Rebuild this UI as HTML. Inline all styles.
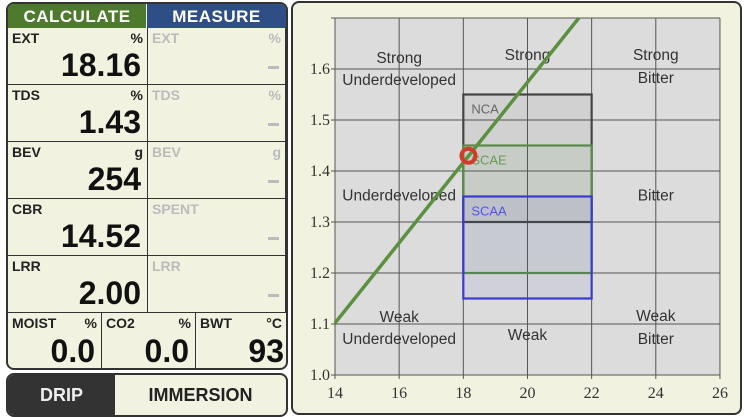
<!DOCTYPE html>
<html><head><meta charset="utf-8"><style>
body{margin:0;width:748px;height:406px;background:#fff;position:relative;overflow:hidden;font-family:"Liberation Sans",sans-serif}
.card{position:absolute;left:6px;top:2px;width:278px;height:364px;border:2px solid #333;border-radius:8px;background:#f2f2e1;overflow:hidden}
.hd{position:absolute;top:0;height:24px;color:#fff;font-weight:bold;font-size:17px;text-align:center;line-height:26px;letter-spacing:0.5px}
.cell{position:absolute;border-right:1.5px solid #333;border-bottom:1.5px solid #333;box-sizing:border-box}
.lb{position:absolute;left:4px;top:2px;font-weight:bold;font-size:14px;color:#222}
.un{position:absolute;right:4px;top:2px;font-weight:bold;font-size:14px;color:#222}
.vl{position:absolute;right:6px;bottom:0px;font-size:32px;font-weight:bold;color:#111}
.g .lb,.g .un{color:#bbb}
.dash{position:absolute;right:6px;bottom:15px;width:11px;height:3px;background:#bbb}
</style></head><body>
<div class="card">
 <div class="hd" style="left:0;width:138px;background:#4e7a2e">CALCULATE</div>
 <div class="hd" style="left:139px;width:139px;background:#2d4f85">MEASURE</div>
 <div class="cell" style="left:0;top:24px;width:140px;height:57px"><span class="lb">EXT</span><span class="un">%</span><span class="vl">18.16</span></div>
 <div class="cell g" style="left:140px;top:24px;width:138px;height:57px"><span class="lb">EXT</span><span class="un">%</span><span class="dash"></span></div>
 <div class="cell" style="left:0;top:81px;width:140px;height:57px"><span class="lb">TDS</span><span class="un">%</span><span class="vl">1.43</span></div>
 <div class="cell g" style="left:140px;top:81px;width:138px;height:57px"><span class="lb">TDS</span><span class="un">%</span><span class="dash"></span></div>
 <div class="cell" style="left:0;top:138px;width:140px;height:57px"><span class="lb">BEV</span><span class="un">g</span><span class="vl">254</span></div>
 <div class="cell g" style="left:140px;top:138px;width:138px;height:57px"><span class="lb">BEV</span><span class="un">g</span><span class="dash"></span></div>
 <div class="cell" style="left:0;top:195px;width:140px;height:57px"><span class="lb">CBR</span><span class="vl">14.52</span></div>
 <div class="cell g" style="left:140px;top:195px;width:138px;height:57px"><span class="lb">SPENT</span><span class="dash"></span></div>
 <div class="cell" style="left:0;top:252px;width:140px;height:57px"><span class="lb">LRR</span><span class="vl">2.00</span></div>
 <div class="cell g" style="left:140px;top:252px;width:138px;height:57px"><span class="lb">LRR</span><span class="dash"></span></div>
 <div class="cell" style="left:0;top:309px;width:94px;height:57px;border-bottom:none"><span class="lb">MOIST</span><span class="un">%</span><span class="vl">0.0</span></div>
 <div class="cell" style="left:94px;top:309px;width:94px;height:57px;border-bottom:none"><span class="lb">CO2</span><span class="un">%</span><span class="vl">0.0</span></div>
 <div class="cell" style="left:188px;top:309px;width:90px;height:57px;border:none"><span class="lb">BWT</span><span class="un">°C</span><span class="vl" style="right:2px">93</span></div>
</div>
<div style="position:absolute;left:6px;top:373px;width:278px;height:40px;border:2px solid #333;border-radius:8px;background:#f2f2e1;overflow:hidden">
 <div style="position:absolute;left:0;top:0;width:107px;height:40px;background:#333;color:#eee;font-weight:bold;font-size:18px;text-align:center;line-height:40px">DRIP</div>
 <div style="position:absolute;left:107px;top:0;width:171px;height:40px;color:#222;font-weight:bold;font-size:18px;text-align:center;line-height:40px">IMMERSION</div>
</div>
<div style="position:absolute;left:291px;top:1px;width:447px;height:410px;border:2px solid #333;border-radius:8px;background:#f2f2e1"></div>
<svg id="chart" style="position:absolute;left:0;top:0" width="748" height="406"></svg>
<script>
const xTicks=[14,16,18,20,22,24,26];
const yTicks=[1.0,1.1,1.2,1.3,1.4,1.5,1.6];
const boxNames=["NCA","SCAE","SCAA"];
const boxX0=[18,18,18],boxX1=[22,22,22];
const boxY0=[1.30,1.20,1.15],boxY1=[1.55,1.45,1.35];
const boxColors=["#444","#5a8a4a","#3a3acc"];
const brewRatio=0.0787;
const pointExt=[18.16], pointTds=[1.43];
const regionLabels=[["Strong",16,1.622],["Underdeveloped",16,1.578],["Strong",20,1.627],["Strong",24,1.627],["Bitter",24,1.582],["Underdeveloped",16,1.352],["Bitter",24,1.352],["Weak",16,1.114],["Underdeveloped",16,1.071],["Weak",20,1.078],["Weak",24,1.116],["Bitter",24,1.071]];
const X=v=>335+(v-14)*32.08, Y=v=>375-(v-1.0)*510;
const svg=document.getElementById('chart'),NS='http://www.w3.org/2000/svg';
function mk(t,a,p){const e=document.createElementNS(NS,t);for(const k in a)e.setAttribute(k,a[k]);(p||svg).appendChild(e);return e;}
const bg=mk('rect',{x:X(14),y:Y(1.7),width:X(26)-X(14),height:Y(1.0)-Y(1.7),fill:'#dcdcdc'});

xTicks.forEach(t=>{const l=mk('line',{x1:X(t),x2:X(t),y1:Y(1.7),y2:Y(1.0)+4,stroke:'#555','stroke-width':1});

const tx=mk('text',{x:X(t),y:398,'text-anchor':'middle','font-family':'Liberation Serif','font-size':16,fill:'#333'});tx.textContent=t;
});
yTicks.concat([1.7]).forEach(t=>{const l=mk('line',{x1:X(14)-4,x2:X(26),y1:Y(t),y2:Y(t),stroke:'#555','stroke-width':1});
});
yTicks.forEach(t=>{const tx=mk('text',{x:330,y:Y(t)+5,'text-anchor':'end','font-family':'Liberation Serif','font-size':16,fill:'#333'});tx.textContent=t.toFixed(1);
});
boxNames.forEach((n,i)=>{const r=mk('rect',{x:X(boxX0[i]),y:Y(boxY1[i]),width:X(boxX1[i])-X(boxX0[i]),height:Y(boxY0[i])-Y(boxY1[i]),fill:boxColors[i],'fill-opacity':0.07,stroke:boxColors[i],'stroke-width':2.2});

const tx=mk('text',{x:X(boxX0[i])+8,y:Y(boxY1[i])+19,'font-size':13,fill:i==0?'#666':(i==1?'#6a9a5a':'#5555dd')});tx.textContent=n;
});
regionLabels.forEach(r=>{const tx=mk('text',{x:X(r[1]),y:Y(r[2])+5,'text-anchor':'middle','font-size':15.5,fill:'#333'});tx.textContent=r[0];
});
const x0=14,x1=1.7/brewRatio;
const ln=mk('line',{x1:X(x0),y1:Y(x0*brewRatio),x2:X(x1),y2:Y(1.7),stroke:'#5a9040','stroke-width':3.5});

pointExt.forEach((e,i)=>{const c=mk('circle',{cx:X(e),cy:Y(pointTds[i]),r:7,fill:'none',stroke:'#d23a2a','stroke-width':4});
});
</script>
</body></html>
